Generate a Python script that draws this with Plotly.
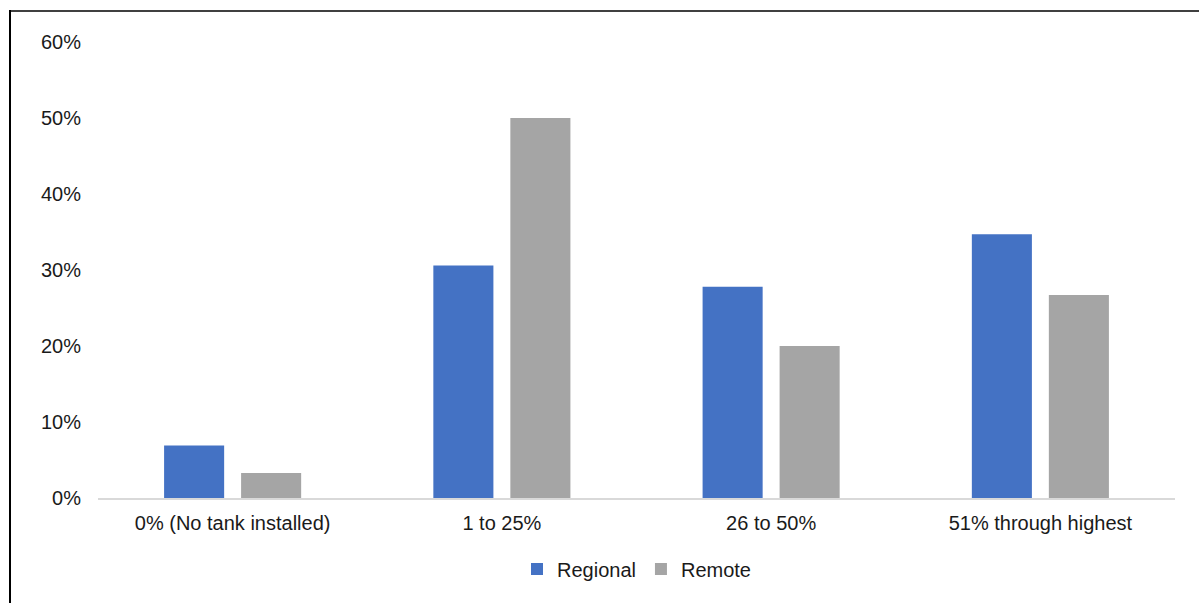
import plotly.graph_objects as go

categories = ["0% (No tank installed)", "1 to 25%", "26 to 50%", "51% through highest"]
regional = [0.069, 0.306, 0.278, 0.347]
remote = [0.033, 0.500, 0.200, 0.267]
tick_values = [0, 0.1, 0.2, 0.3, 0.4, 0.5, 0.6]
tick_labels = ["0%", "10%", "20%", "30%", "40%", "50%", "60%"]

FONT = "Liberation Sans, Arial, sans-serif"
TXT = "#1a1a1a"

fig = go.Figure()
fig.add_trace(go.Bar(name="Regional", x=categories, y=regional,
                     marker=dict(color="#4472C4", line=dict(width=0))))
fig.add_trace(go.Bar(name="Remote", x=categories, y=remote,
                     marker=dict(color="#A5A5A5", line=dict(width=0))))

W, H = 1199, 603
ml, mr, mt, mb = 98, 24, 42, 105
pw, ph = W - ml - mr, H - mt - mb

def px_x(x):
    return (x - ml) / pw

def px_y(y):
    return (H - mb - y) / ph

fig.update_layout(
    width=W, height=H,
    margin=dict(l=ml, r=mr, t=mt, b=mb),
    paper_bgcolor="white", plot_bgcolor="white",
    barmode="group", bargap=0.428, bargroupgap=0.22,
    font=dict(family=FONT, size=20, color=TXT),
    showlegend=True,
    legend=dict(orientation="h", x=0.5, xanchor="center", y=px_y(569), yanchor="middle",
                font=dict(size=20, color=TXT), itemwidth=30,
                traceorder="normal", bgcolor="rgba(0,0,0,0)"),
    xaxis=dict(showgrid=False, showline=True, linecolor="#D9D9D9", linewidth=1.5,
               ticks="", tickfont=dict(size=20, color=TXT), ticklabelstandoff=6),
    yaxis=dict(range=[0, 0.6], tickvals=tick_values, ticktext=tick_labels,
               showgrid=False, zeroline=False, showline=False, ticks="",
               tickfont=dict(size=20, color=TXT), ticklabelstandoff=16),
    shapes=[
        dict(type="line", xref="paper", yref="paper",
             x0=px_x(9), x1=px_x(W), y0=px_y(11), y1=px_y(11),
             line=dict(color="black", width=1.5)),
        dict(type="line", xref="paper", yref="paper",
             x0=px_x(10), x1=px_x(10), y0=px_y(10), y1=px_y(H),
             line=dict(color="black", width=2)),
    ],
)

fig.write_html("out.html")
